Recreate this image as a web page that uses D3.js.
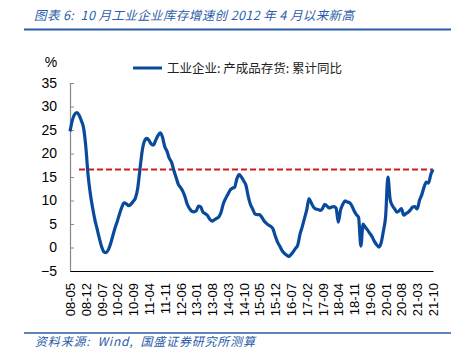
<!DOCTYPE html>
<html><head><meta charset="utf-8">
<script src="https://cdn.jsdelivr.net/npm/d3@7"></script>
<style>
body{margin:0;background:#fff;}
svg{display:block;}
</style></head>
<body>
<svg id="c" width="464" height="350"></svg>
<script>
// ---- data ----
const startYear = 2008, startMonth = 5; // first month 2008-05
const values = [
24.7,27.0,28.3,28.7,28.2,27.0,25.5,21.5,15.5,11.5,
8.5,6.0,4.0,2.0,0.2,-0.9,-1.1,-0.5,0.8,2.5,
4.2,5.6,7.2,8.6,9.5,9.3,8.9,9.2,9.8,10.5,
12.5,16.5,20.5,22.6,23.2,22.8,22.0,21.8,22.8,23.8,
24.4,23.5,21.5,20.5,19.0,18.2,16.5,15.0,13.5,12.8,
12.0,10.8,9.2,8.3,7.7,7.6,7.8,8.8,8.6,7.5,
7.2,6.8,6.0,5.6,5.9,6.2,6.5,7.5,9.3,10.4,
11.3,12.2,12.6,12.8,14.6,15.5,15.0,14.2,13.3,11.0,
9.2,8.2,7.2,7.0,7.0,6.5,5.7,5.2,4.8,4.5,
4.0,2.5,1.2,0.3,-0.6,-1.2,-1.6,-1.9,-1.5,-0.9,
-0.2,0.5,2.8,4.4,6.2,8.0,10.4,9.5,8.6,8.2,
8.1,7.9,8.3,9.2,8.8,8.4,8.6,8.7,8.4,5.4,
8.0,9.2,9.9,9.7,9.5,8.9,7.8,7.0,6.4,0.3,
5.0,4.3,3.7,3.0,2.3,1.3,0.6,0.1,1.0,3.5,
6.7,15.0,10.2,8.9,8.2,7.5,7.8,8.3,6.9,7.2,
7.5,8.0,8.6,8.7,8.2,10.0,11.2,12.8,13.9,13.7,
15.5,16.6
];
const refLevel = 16.6;
const refStartIndex = 4;
const yTicks = [-5,0,5,10,15,20,25,30,35];
const xTickLabels = ["08-05","08-12","09-07","10-02","10-09","11-04","11-11","12-06","13-01","13-08","14-03","14-10","15-05","15-12","16-07","17-02","17-09","18-04","18-11","19-06","20-01","20-08","21-03","21-10"];
const seriesName = "工业企业: 产成品存货: 累计同比";
const title = "图表 6:  10 月工业企业库存增速创 2012 年 4 月以来新高";
const source = "资料来源:  Wind,  国盛证券研究所测算";

// categories (yy-mm)
const months = values.map((v,i)=>{
  const m = startMonth - 1 + i;
  const y = startYear + Math.floor(m/12);
  const mm = m % 12 + 1;
  return String(y%100).padStart(2,"0")+"-"+String(mm).padStart(2,"0");
});
const data = months.map((m,i)=>({m, v: values[i]}));

// ---- drawing ----
const svg = d3.select("#c");
const blue = "#2a5ca8";
const x = d3.scalePoint().domain(months).range([70, 433]);
const y = d3.scaleLinear().domain([-5,35]).range([271, 83]);

// title
svg.append("text").attr("x",34).attr("y",20)
  .attr("font-family","'Noto Sans CJK SC', sans-serif").attr("font-size",12.5)
  .attr("font-style","italic").attr("fill",blue).style("white-space","pre")
  .attr("textLength",320).attr("lengthAdjust","spacing").text(title);
svg.append("line").attr("x1",24).attr("x2",451).attr("y1",29.5).attr("y2",29.5)
  .attr("stroke",blue).attr("stroke-width",2);

// footer
svg.append("line").attr("x1",24).attr("x2",451).attr("y1",333).attr("y2",333)
  .attr("stroke",blue).attr("stroke-width",1.5);
svg.append("text").attr("x",35).attr("y",346)
  .attr("font-family","'Noto Sans CJK SC', sans-serif").attr("font-size",12)
  .attr("font-style","italic").attr("fill",blue).style("white-space","pre")
  .attr("textLength",220).attr("lengthAdjust","spacing").text(source);

// y axis
const yAxis = d3.axisLeft(y).tickValues(yTicks).tickSize(-4).tickPadding(13);
const gy = svg.append("g").attr("transform","translate(70,0)").call(yAxis);
gy.select(".domain").attr("stroke","#888").attr("stroke-width",1.2);
gy.selectAll(".tick line").attr("stroke","#888");
gy.selectAll(".tick text").attr("font-family","'Liberation Sans', Arial, sans-serif")
  .attr("font-size",14).attr("fill","#000");

svg.append("text").attr("x",51).attr("y",67).attr("text-anchor","middle")
  .attr("font-family","'Liberation Sans', Arial, sans-serif").attr("font-size",14).text("%");

// x axis
const xAxis = d3.axisBottom(x).tickValues(xTickLabels).tickSize(0).tickPadding(0);
const gx = svg.append("g").attr("transform","translate(0,271)").call(xAxis);
gx.select(".domain").attr("stroke","#000").attr("stroke-width",1);
gx.selectAll(".tick text")
  .attr("font-family","'Liberation Sans', Arial, sans-serif").attr("font-size",13).attr("fill","#000")
  .attr("text-anchor","end").attr("dy","0.35em").attr("y",0)
  .attr("transform","translate(0,12) rotate(-90)");

// reference dashed line
const refData = data.slice(refStartIndex);
svg.append("path").datum(refData)
  .attr("d", d3.line().x(d=>x(d.m)).y(()=>y(refLevel)))
  .attr("fill","none").attr("stroke","#d01c1c").attr("stroke-width",1.8)
  .attr("stroke-dasharray","6,3");

// series line
svg.append("path").datum(data)
  .attr("d", d3.line().x(d=>x(d.m)).y(d=>y(d.v)).curve(d3.curveMonotoneX))
  .attr("fill","none").attr("stroke","#0a4a9c").attr("stroke-width",3.2)
  .attr("stroke-linejoin","round");

// legend
svg.append("line").attr("x1",133).attr("x2",162).attr("y1",68).attr("y2",68)
  .attr("stroke","#0a4a9c").attr("stroke-width",3);
svg.append("text").attr("x",167).attr("y",73)
  .attr("font-family","'Noto Sans CJK SC', sans-serif").attr("font-size",12.5).attr("fill","#222")
  .text(seriesName);
</script>
</body></html>
